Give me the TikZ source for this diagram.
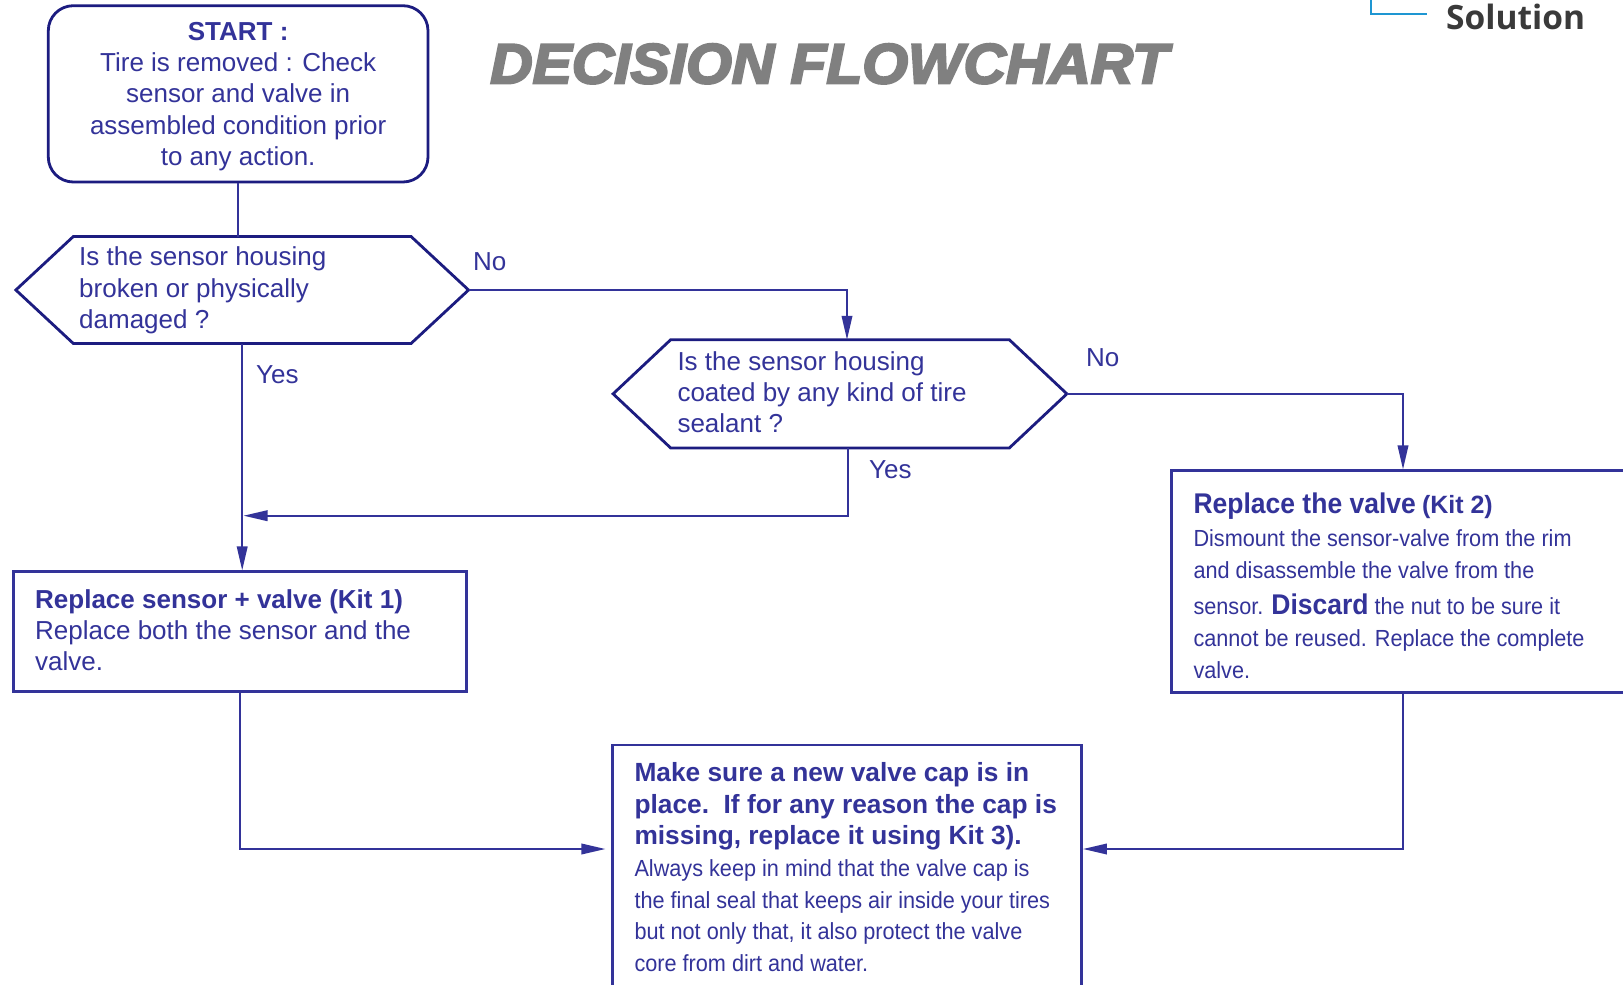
\documentclass[tikz,border=0pt]{standalone}
\usepackage{fontspec}
\setmainfont{Liberation Sans}
\newfontfamily\narrowfont[FakeStretch=0.93]{Liberation Sans}
\newfontfamily\titlefont[FakeStretch=1.04,FakeBold=4]{Liberation Sans Bold Italic}
\newfontfamily\solfont{Open Sans}
\usetikzlibrary{arrows.meta,calc}
\definecolor{txtblue}{RGB}{51,51,153}
\definecolor{navy}{RGB}{28,28,128}
\definecolor{titlegray}{RGB}{128,128,128}
\definecolor{solgray}{RGB}{58,58,58}
\definecolor{lightblue}{RGB}{30,150,210}
\tikzset{
  startbox/.style={draw=navy, line width=2.8pt, rounded corners=25pt, inner sep=0},
  hexnode/.style={inner sep=0},
  hexline/.style={draw=navy, line width=2.8pt, line join=miter},
  kitbox/.style={draw=txtblue, line width=2.5pt, inner sep=0},
  conn/.style={draw=txtblue, line width=2pt},
  arr/.style={conn, -{Triangle[length=24pt,width=10.5pt]}},
  txt/.style={anchor=base west, inner sep=0, text=txtblue},
  lbl/.style={anchor=base west, inner sep=0, text=txtblue, font=\fontsize{26}{31}\selectfont},
}
\newcommand{\mainsize}{\fontsize{26}{31.4}\selectfont\lineskiplimit=-20pt}
\begin{document}
\begin{tikzpicture}[x=1pt,y=-1pt]
\useasboundingbox[fill=white] (0,0) rectangle (1623,985);

% title and corner
\node[anchor=base west, inner sep=0, text=titlegray] (title) at (490,83.3)
  {\titlefont\fontsize{56.5}{60}\selectfont DECISION FLOWCHART};
\node[anchor=base west, inner sep=0, text=solgray] (sol) at (1446,29)
  {\solfont\bfseries\fontsize{33.5}{40}\selectfont Solution};
\coordinate (c1) at (1370.7,-3);
\coordinate (c2) at (1427,14.3);
\draw[lightblue, line width=2pt] (c1) |- (c2);

% shapes
\node[startbox, minimum width=379.7pt, minimum height=176.3pt] (start) at (238.15,93.85) {};
\node[hexnode, minimum width=452.3pt, minimum height=106.6pt] (h1) at (242.2,290) {};
\node[hexnode, minimum width=453.4pt, minimum height=107.7pt] (h2) at (840,393.85) {};
\node[kitbox, minimum width=453.4pt, minimum height=120pt] (k1) at (240,631.7) {};
\node[kitbox, minimum width=462.6pt, minimum height=221.6pt] (k2) at (1403,581.5) {};
\node[kitbox, minimum width=469pt, minimum height=260pt] (fin) at (847.2,875) {};

\foreach \h in {h1,h2}{
  \draw[hexline] (\h.west) -- ([xshift=57.5pt]\h.north west) -- ([xshift=-57.5pt]\h.north east)
    -- (\h.east) -- ([xshift=-57.5pt]\h.south east) -- ([xshift=57.5pt]\h.south west) -- cycle;
}

% texts
\node[txt, anchor=base] (tstart) at (238.15,40) {\parbox[t]{370pt}{\centering\mainsize
  \textbf{START :}\\
  Tire is removed : Check\\
  sensor and valve in\\
  assembled condition prior\\
  to any action.}};
\node[txt] (th1) at (79,265.7) {\parbox[t]{380pt}{\raggedright\mainsize
  Is the sensor housing\\
  broken or physically\\
  damaged ?}};
\node[txt] (th2) at (677.3,370) {\parbox[t]{380pt}{\raggedright\mainsize
  Is the sensor housing\\
  coated by any kind of tire\\
  sealant ?}};
\node[txt] (tk1) at (35,608.3) {\parbox[t]{420pt}{\raggedright\fontsize{26}{31}\selectfont\lineskiplimit=-20pt
  \textbf{Replace sensor + valve (Kit 1)}\\
  Replace both the sensor and the\\
  valve.}};
\node[txt] (tk2) at (1193.3,513.3) {\parbox[t]{420pt}{\raggedright\narrowfont\fontsize{23.3}{31.6}\selectfont\lineskiplimit=-20pt
  {\bfseries\fontsize{28.5}{31.6}\selectfont Replace the valve} {\normalfont\bfseries\fontsize{25}{31.6}\selectfont (Kit 2)}\\[1.8pt]
  Dismount the sensor-valve from the rim\\
  and disassemble the valve from the\\[5pt]
  sensor. {\bfseries\fontsize{28.5}{31.6}\selectfont Discard} the nut to be sure it\\
  cannot be reused. Replace the complete\\
  valve.}};
\node[txt] (tfin) at (634.3,781.7) {\parbox[t]{440pt}{\raggedright\fontsize{26.3}{31.6}\selectfont\lineskiplimit=-20pt
  \textbf{Make sure a new valve cap is in}\\
  \textbf{place.\ \ If for any reason the cap is}\\
  \textbf{missing, replace it using Kit 3).}\\
  {\narrowfont\fontsize{23.3}{31.6}\selectfont Always keep in mind that the valve cap is}\\
  {\narrowfont\fontsize{23.3}{31.6}\selectfont the final seal that keeps air inside your tires}\\
  {\narrowfont\fontsize{23.3}{31.6}\selectfont but not only that, it also protect the valve}\\
  {\narrowfont\fontsize{23.3}{31.6}\selectfont core from dirt and water.}}};

% labels
\node[lbl] (no1) at (473,270.3) {No};
\node[lbl] (yes1) at (256,383.5) {Yes};
\node[lbl] (no2) at (1086,366) {No};
\node[lbl] (yes2) at (869,478.3) {Yes};

% connectors
\coordinate (j) at (243.5,515.7);
\draw[conn] (start.south) -- (start.south |- h1.north);
\draw[arr] (h1.east) -| ([xshift=7pt]h2.north);
\draw[arr] (h2.east) -| (k2.north);
\draw[arr] ([xshift=8pt]h2.south) |- (j);
\draw[arr] (h1.south) -- (h1.south |- k1.north);
\draw[arr, shorten >=6pt] (k1.south) |- ([yshift=26pt]fin.west);
\draw[arr] (k2.south) |- ([yshift=26pt]fin.east);
\end{tikzpicture}
\end{document}
